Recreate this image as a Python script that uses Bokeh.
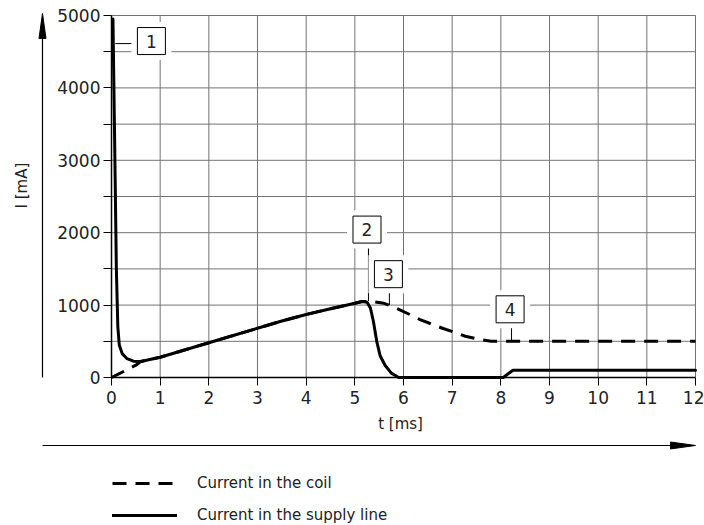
from bokeh.plotting import figure
from bokeh.models import Range1d, FixedTicker, Label, Legend, LegendItem
from bokeh.core.properties import value
from bokeh.embed import file_html
from bokeh.resources import INLINE
import math

# ---- data ----
t_supply = [0.03, 0.06, 0.10, 0.13, 0.16, 0.22, 0.32, 0.45, 0.60, 1.0, 1.5, 2.0, 2.5, 3.0,
            3.5, 4.0, 4.5, 4.8, 5.0, 5.15, 5.25, 5.32, 5.38, 5.45, 5.52, 5.62, 5.75, 5.90,
            8.05, 8.25, 12.0]
i_supply = [4950, 3500, 1500, 700, 450, 330, 260, 225, 220, 280, 380, 480, 580, 680,
            780, 870, 950, 995, 1025, 1050, 1040, 960, 780, 500, 300, 170, 60, 0,
            0, 100, 100]

t_coil = [0.0, 0.15, 0.33, 0.50, 0.60, 1.0, 1.5, 2.0, 2.5, 3.0, 3.5, 4.0, 4.5, 4.8, 5.0,
          5.15, 5.4, 5.6, 5.86, 6.13, 6.34, 6.59, 6.8, 7.04, 7.27, 7.56, 7.8, 8.1, 12.0]
i_coil = [0, 50, 110, 170, 220, 280, 380, 480, 580, 680, 780, 870, 950, 995, 1025,
          1050, 1045, 1025, 955, 870, 800, 735, 680, 625, 570, 525, 500, 500, 500]

x_ticks = list(range(0, 13))
y_ticks = list(range(0, 5001, 500))
y_labels = {v: (str(v) if v % 1000 == 0 else "") for v in y_ticks}
X_MAX = 12
Y_MAX = 5000

# callout boxes: label, centre, leader start/end
box_text = ["1", "2", "3", "4"]
box_x = [0.82, 5.25, 5.69, 8.19]
box_y = [4647, 2043, 1427, 942]
lead_x0 = [0.08, 5.28, 5.71, 8.22]
lead_y0 = [4612, 1856, 1233, 748]
lead_x1 = [0.53, 5.28, 5.71, 8.22]
lead_y1 = [4612, 1053, 1000, 500]

FONT = "DejaVu Sans"
TXT = "#222222"

# frame covers the whole canvas; scales: 48.667 px/ms, 13.812 mA/px
W, H = 704, 525
p = figure(width=W, height=H, output_backend="svg", toolbar_location=None,
           x_range=Range1d(-2.2808, 12.1849), y_range=Range1d(-2044.2, 5207.2),
           min_border=0)
p.background_fill_color = "white"
p.border_fill_color = "white"
p.outline_line_color = None
p.grid.visible = False

# grid lines limited to the chart area
gx = [t for t in x_ticks if t > 0]
p.segment(gx, [0] * len(gx), gx, [Y_MAX] * len(gx), line_color="#737373", line_width=1)
gy = [v for v in y_ticks if v > 0]
p.segment([0] * len(gy), gy, [X_MAX] * len(gy), gy, line_color="#737373", line_width=1)

# axes through the origin
p.xaxis.fixed_location = 0
p.yaxis.fixed_location = 0
p.xaxis.bounds = (0, X_MAX)
p.yaxis.bounds = (0, Y_MAX)
p.xaxis.ticker = FixedTicker(ticks=x_ticks)
p.yaxis.ticker = FixedTicker(ticks=y_ticks)
p.yaxis.major_label_overrides = y_labels
for ax in (p.xaxis, p.yaxis):
    ax.axis_line_color = "black"
    ax.axis_line_width = 1.5
    ax.major_tick_line_color = "black"
    ax.major_tick_out = 8
    ax.major_tick_in = 0
    ax.minor_tick_line_color = None
    ax.major_label_text_font = FONT
    ax.major_label_text_font_size = "17px"
    ax.major_label_text_color = TXT
p.yaxis.major_label_standoff = 3
p.xaxis.major_label_standoff = 5

# callouts
p.segment(lead_x0, lead_y0, lead_x1, lead_y1, line_color="black", line_width=1)
p.rect(box_x, box_y, width=40, height=38, width_units="screen", height_units="screen",
       fill_color="white", line_color=None)
p.rect(box_x, box_y, width=28, height=27, width_units="screen", height_units="screen",
       fill_color="white", line_color="black", line_width=1)
p.text(box_x, box_y, text=box_text, text_align="center", text_baseline="middle",
       text_font=value(FONT), text_font_size="17px", text_color=TXT)

# curves
r_coil = p.line(t_coil, i_coil, line_color="black", line_width=3, line_dash="14 9",
                line_join="round")
r_sup = p.line(t_supply, i_supply, line_color="black", line_width=3,
               line_join="round", line_cap="round")

# axis arrows
ax_x = -1.418          # arrow position left of the chart
ax_y = -939            # arrow position below the chart
p.line([ax_x, ax_x], [0, 4700], line_color="black", line_width=1.2)
p.patch([ax_x, ax_x - 0.072, ax_x + 0.072], [5028, 4682, 4682], fill_color="black",
        line_color="black", line_width=1)
p.line([ax_x, 11.5], [ax_y, ax_y], line_color="black", line_width=1.2)
p.patch([X_MAX, 11.486, 11.486], [ax_y, ax_y + 48, ax_y - 48], fill_color="black",
        line_color="black", line_width=1)

p.add_layout(Label(x=-1.83, y=2650, text="I [mA]", angle=math.pi / 2,
                   text_align="center", text_baseline="middle", text_font=FONT,
                   text_font_size="15px", text_color=TXT))
p.add_layout(Label(x=5.94, y=-649, text="t [ms]", text_align="center",
                   text_baseline="middle", text_font=FONT, text_font_size="15px",
                   text_color=TXT))

legend = Legend(items=[LegendItem(label="Current in the coil", renderers=[r_coil]),
                       LegendItem(label="Current in the supply line", renderers=[r_sup])],
                location=(112, 0), orientation="vertical",
                glyph_width=65, glyph_height=20, label_height=20, spacing=12,
                label_standoff=20, padding=0, margin=0,
                border_line_color=None, background_fill_alpha=0,
                label_text_font=FONT, label_text_font_size="15px",
                label_text_color=TXT)
p.add_layout(legend, "center")

open("out.html", "w").write(file_html(p, INLINE))
